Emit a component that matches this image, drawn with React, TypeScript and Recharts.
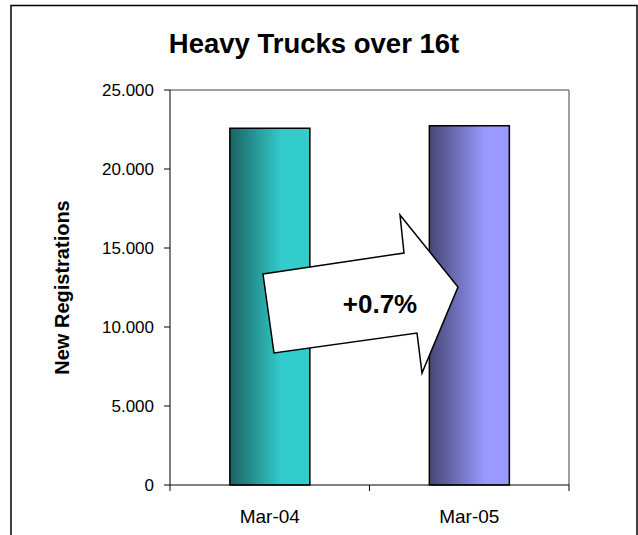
import { BarChart, Bar, XAxis, YAxis, CartesianGrid, Cell } from 'recharts'

const months = ['Mar-04', 'Mar-05']
const registrations = [22580, 22740]
const yTicks = [0, 5000, 10000, 15000, 20000, 25000]
const changeLabel = '+0.7%'
const chartTitle = 'Heavy Trucks over 16t'
const barFills = ['url(#gradTeal)', 'url(#gradPurple)']

const FONT = '"Liberation Sans", Arial, sans-serif'

const chartData = months.map((m, i) => ({ month: m, value: registrations[i] }))

function formatThousands(n: number) {
  return String(n).replace(/\B(?=(\d{3})+(?!\d))/g, '.')
}

function MonthTick({ x, y, payload }: any) {
  const half = payload?.offset ?? 0
  const isLast = payload?.value === months[months.length - 1]
  return (
    <g>
      <line x1={x - half} x2={x - half} y1={y} y2={y + 6} stroke="#000" />
      {isLast && <line x1={x + half} x2={x + half} y1={y} y2={y + 6} stroke="#000" />}
      <text x={x} y={y + 38} textAnchor="middle" fontFamily={FONT} fontSize={19} fill="#000">
        {payload.value}
      </text>
    </g>
  )
}

export default function App() {
  return (
    <div style={{ position: 'absolute', left: 0, top: 0, width: 638, height: 535, background: '#fff', overflow: 'hidden' }}>
      <BarChart
        width={638}
        height={535}
        data={chartData}
        margin={{ top: 90, right: 69, left: 110, bottom: 0 }}
        barCategoryGap="30%"
      >
        <defs>
          <linearGradient id="gradTeal" x1="0" y1="0" x2="1" y2="0">
            <stop offset="0%" stopColor="#1b6262" />
            <stop offset="65%" stopColor="#33cccc" />
            <stop offset="100%" stopColor="#33cccc" />
          </linearGradient>
          <linearGradient id="gradPurple" x1="0" y1="0" x2="1" y2="0">
            <stop offset="0%" stopColor="#464676" />
            <stop offset="70%" stopColor="#9999ff" />
            <stop offset="100%" stopColor="#9999ff" />
          </linearGradient>
        </defs>
        <CartesianGrid
          stroke="#808080"
          strokeWidth={1.5}
          horizontalCoordinatesGenerator={({ offset }: any) => [offset.top]}
          verticalCoordinatesGenerator={({ offset }: any) => [offset.left + offset.width]}
        />
        <XAxis
          dataKey="month"
          height={50}
          axisLine={{ stroke: '#000' }}
          tickLine={false}
          tickSize={0}
          tickMargin={0}
          tick={<MonthTick />}
          interval={0}
        />
        <YAxis
          width={60}
          domain={[0, 25000]}
          ticks={yTicks}
          tickFormatter={formatThousands}
          axisLine={{ stroke: '#000' }}
          tickLine={{ stroke: '#000' }}
          tickSize={6}
          tickMargin={10}
          tick={{ fill: '#000', fontSize: 17, fontFamily: FONT }}
          label={{
            value: 'New Registrations',
            angle: -90,
            position: 'center',
            dx: -78,
            style: { fontFamily: FONT, fontSize: 20, fontWeight: 'bold', fill: '#000' },
          }}
        />
        <Bar dataKey="value" isAnimationActive={false} stroke="#000" strokeWidth={1.5}>
          {chartData.map((d, i) => (
            <Cell key={d.month} fill={barFills[i]} />
          ))}
        </Bar>
      </BarChart>
      <svg width={638} height={535} style={{ position: 'absolute', left: 0, top: 0, pointerEvents: 'none' }}>
        <rect x={11} y={5.5} width={626} height={600} fill="none" stroke="#000" strokeWidth={1.5} />
        <text x={314} y={53} textAnchor="middle" fontFamily={FONT} fontSize={27.5} fontWeight="bold" fill="#000">
          {chartTitle}
        </text>
        <polygon
          points="263,274 404,253 400,215 458,287 422,373 417,333 274,353"
          fill="#fff"
          stroke="#000"
          strokeWidth={1.5}
          strokeLinejoin="miter"
        />
        <text x={380} y={313} textAnchor="middle" fontFamily={FONT} fontSize={26} fontWeight="bold" fill="#000">
          {changeLabel}
        </text>
      </svg>
    </div>
  )
}
